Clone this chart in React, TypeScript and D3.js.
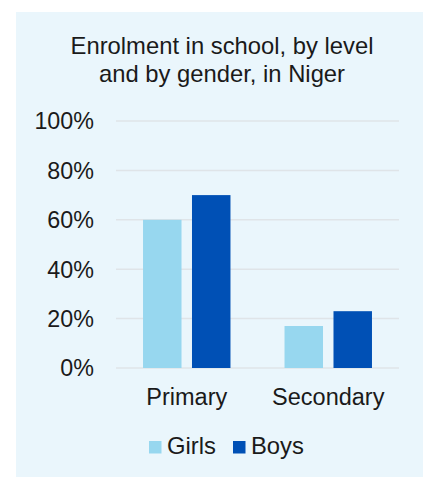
import React from "react";
import * as d3 from "d3";

const categories = ["Primary", "Secondary"];
const seriesNames = ["Girls", "Boys"];
const girls = [60, 17];
const boys = [70, 23];
const yTicks = [0, 20, 40, 60, 80, 100];
const titleLines = ["Enrolment in school, by level", "and by gender, in Niger"];
const colors = ["#97D7EF", "#0050B5"];

const W = 423;
const H = 477;
const FONT = "Arial, 'Liberation Sans', sans-serif";

export default function App() {
  const x0 = d3.scaleBand<string>().domain(categories).range([116, 399]).paddingInner(0.382).paddingOuter(0.191);
  const x1 = d3.scaleBand<string>().domain(seriesNames).range([0, x0.bandwidth()]).paddingInner(0.214);
  const y = d3.scaleLinear().domain([0, 100]).range([368, 121]);
  const series = [girls, boys];

  return (
    <svg width={W} height={H} style={{ position: "absolute", left: 0, top: 0 }} fontFamily={FONT}>
      <rect x={16} y={12} width={W - 16} height={H - 12} fill="#EAF6FC" />
      {titleLines.map((t, i) => (
        <text key={t} x={222} y={54 + i * 28} textAnchor="middle" fontSize={23.8} fill="#1a1a1a">
          {t}
        </text>
      ))}
      {yTicks.map((t) => (
        <g key={t}>
          <line x1={116} x2={399} y1={y(t)} y2={y(t)} stroke="#DFE4E8" strokeWidth={1.5} />
          <text x={94} y={y(t)} dy="0.36em" textAnchor="end" fontSize={23.3} fill="#1a1a1a">
            {t}%
          </text>
        </g>
      ))}
      {categories.map((c, ci) => (
        <g key={c} transform={`translate(${x0(c)},0)`}>
          {seriesNames.map((s, si) => (
            <rect
              key={s}
              x={x1(s)}
              y={y(series[si][ci])}
              width={x1.bandwidth()}
              height={y(0) - y(series[si][ci])}
              fill={colors[si]}
            />
          ))}
          <text x={x0.bandwidth() / 2} y={405} textAnchor="middle" fontSize={23.5} fill="#1a1a1a">
            {c}
          </text>
        </g>
      ))}
      {seriesNames.map((s, si) => {
        const lx = si === 0 ? 149 : 233;
        return (
          <g key={s}>
            <rect x={lx} y={441} width={12.5} height={12.5} fill={colors[si]} />
            <text x={lx + 18} y={453.5} fontSize={23.8} fill="#1a1a1a">
              {s}
            </text>
          </g>
        );
      })}
    </svg>
  );
}
